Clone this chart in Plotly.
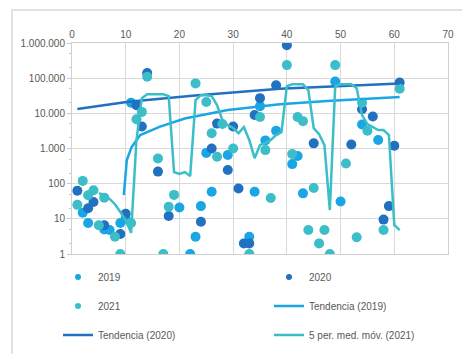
import plotly.graph_objects as go

# ---------------- data ----------------
x_2019 = [2, 3, 6, 7, 9, 10, 11, 20, 22, 23, 24, 25, 26, 29, 33, 34, 35, 36, 38, 41, 42, 43, 49, 50, 54, 57]
y_2019 = [15, 7.6, 5, 4.8, 7.6, 10, 20000, 21, 1, 3.1, 23, 750, 59, 650, 3.1, 59, 16000, 1700, 3200, 360, 610, 53, 80000, 31, 4800, 1740]

x_2020 = [1, 3, 4, 6, 9, 10, 12, 13, 14, 16, 18, 24, 26, 27, 29, 30, 31, 32, 33, 34, 35, 38, 40, 45, 52, 54, 56, 58, 59, 60, 61]
y_2020 = [63, 20, 30, 6.6, 3.7, 14, 17000, 4200, 140000, 220, 12, 8.3, 1000, 5100, 245, 4200, 73, 2, 2, 9000, 27000, 63000, 870000, 1400, 1300, 13000, 8100, 9.5, 23, 1200, 75000]

x_2021 = [1, 2, 3, 4, 5, 6, 8, 9, 11, 12, 13, 14, 16, 17, 18, 19, 23, 25, 26, 27, 28, 30, 33, 35, 36, 37, 40, 41, 42, 43, 44, 45, 46, 47, 48, 49, 51, 53, 54, 55, 58, 61]
y_2021 = [25, 120, 47, 65, 6.6, 40, 3.1, 1, 7.6, 6800, 11000, 110000, 520, 1, 22, 48, 71000, 21000, 2700, 580, 5000, 1000, 1, 7900, 900, 39, 235000, 700, 7900, 6000, 4.8, 75, 2, 4.8, 1, 235000, 375, 3, 20000, 3200, 4.8, 50000]

# trend lines as drawn in the reference
x_tend_2019 = [9.65, 10.2, 11.1, 12.7, 16.4, 21, 29, 38.7, 47.5, 61]
y_tend_2019 = [47, 470, 1100, 2400, 4200, 7100, 12500, 18000, 22500, 29000]

x_tend_2020 = [1, 10.5, 22.9, 38.7, 61]
y_tend_2020 = [13200, 21300, 32000, 50000, 71000]

# 5-period moving average (2021) as drawn
x_ma_2021 = list(range(5, 62))
y_ma_2021 = [54, 47, 37, 26, 15.6, 9.2, 4,
             1740, 27000, 35000, 35000, 35000, 35000, 31000,
             214, 188, 214, 164,
             23700, 32900, 32900, 31000, 17100, 6400, 4600, 3800, 2740, 4070, 1740, 530, 1250, 1420, 1740, 2400, 2900,
             59000, 67000, 67000, 67000, 45700, 3800, 2560, 1250, 17.8,
             59000, 67000, 67000, 67000, 52000, 8880, 4930, 4070, 3340, 3340, 2400, 6.7, 4.8]

x_ticks = [0, 10, 20, 30, 40, 50, 60, 70]
y_tickvals = [1, 10, 100, 1000, 10000, 100000, 1000000]
y_ticktext = ["1", "10", "100", "1.000", "10.000", "100.000", "1.000.000"]

legend_names = ["2019", "2020", "2021", "Tendencia (2019)", "Tendencia (2020)", "5 per. med. móv. (2021)"]

# ---------------- style ----------------
C19 = "#1aa6e4"
C20 = "#2270c0"
C21 = "#3bbec8"
FONT = "Liberation Sans, Arial, sans-serif"
TXT = "#595959"
MS = 10

fig = go.Figure()

# scatter series
for xs, ys, c in [(x_2019, y_2019, C19), (x_2020, y_2020, C20), (x_2021, y_2021, C21)]:
    fig.add_trace(go.Scatter(x=xs, y=ys, mode="markers", showlegend=False,
                             marker=dict(size=MS, color=c, line=dict(width=0))))

# lines
fig.add_trace(go.Scatter(x=x_tend_2019, y=y_tend_2019, mode="lines", showlegend=False,
                         line=dict(color=C19, width=2.5)))
fig.add_trace(go.Scatter(x=x_tend_2020, y=y_tend_2020, mode="lines", showlegend=False,
                         line=dict(color=C20, width=2.5)))
fig.add_trace(go.Scatter(x=x_ma_2021, y=y_ma_2021, mode="lines", showlegend=False,
                         line=dict(color=C21, width=2.5)))

# legend entries (three rows, two columns)
leg_specs = [
    (legend_names[0], "markers", C19, "legend"),
    (legend_names[1], "markers", C20, "legend"),
    (legend_names[2], "markers", C21, "legend2"),
    (legend_names[3], "lines", C19, "legend2"),
    (legend_names[4], "lines", C20, "legend3"),
    (legend_names[5], "lines", C21, "legend3"),
]
for name, mode, c, lg in leg_specs:
    fig.add_trace(go.Scatter(x=[None], y=[None], mode=mode, name=name, legend=lg,
                             marker=dict(size=6, color=c),
                             line=dict(color=c, width=2.5)))

W, H = 462, 354
L, R, T, B = 72, 14, 43, 100
pw, ph = W - L - R, H - T - B

def px2x(px):
    return (px - L) / pw

def py2y(py):
    return (H - B - py) / ph

leg_common = dict(orientation="h", xanchor="left", yanchor="middle",
                  entrywidth=166, entrywidthmode="pixels",
                  font=dict(family=FONT, size=10, color=TXT),
                  bgcolor="rgba(0,0,0,0)", borderwidth=0, itemwidth=30)

LX = 58
fig.update_layout(
    width=W, height=H,
    margin=dict(l=L, r=R, t=T, b=B, autoexpand=False),
    paper_bgcolor="white", plot_bgcolor="white",
    font=dict(family=FONT, size=10, color=TXT),
    legend=dict(x=px2x(LX), y=py2y(277), **leg_common),
    legend2=dict(x=px2x(LX), y=py2y(306), **leg_common),
    legend3=dict(x=px2x(LX), y=py2y(335), **leg_common),
    xaxis=dict(range=[0, 70], tickvals=x_ticks, side="top", showgrid=True,
               gridcolor="#d9d9d9", gridwidth=1, zeroline=False,
               showline=True, linecolor="#d0d0d0", mirror=True,
               ticks="", tickfont=dict(size=10, color=TXT)),
    yaxis=dict(type="log", range=[0, 6], tickvals=y_tickvals, ticktext=y_ticktext,
               showgrid=True, gridcolor="#d9d9d9", gridwidth=1, zeroline=False,
               showline=True, linecolor="#d0d0d0", mirror=True,
               ticks="outside", ticklen=4, tickcolor="#c8c8c8",
               minor=dict(ticks="outside", ticklen=2, tickcolor="#c8c8c8", showgrid=False),
               tickfont=dict(size=10, color=TXT)),
    shapes=[dict(type="rect", xref="paper", yref="paper",
                 x0=px2x(12), x1=px2x(470), y0=py2y(370), y1=py2y(10),
                 line=dict(color="#d9d9d9", width=1.5), fillcolor="rgba(0,0,0,0)", layer="below")],
)

fig.write_html("out.html")
